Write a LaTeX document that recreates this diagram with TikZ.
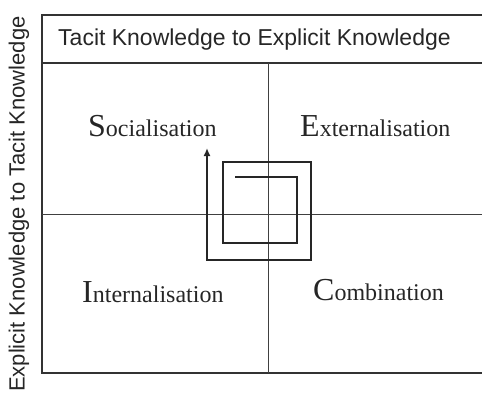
\documentclass[tikz,border=0pt]{standalone}
\usepackage{fontspec}
\setmainfont{Liberation Serif}
\newfontfamily\axisfont{Liberation Sans}
\usetikzlibrary{arrows.meta}
\begin{document}
\begin{tikzpicture}[x=1pt,y=-1pt,
frame/.style={draw=black!80,line width=1.3pt},
divider/.style={draw=black!75,line width=0.8pt},
spiral/.style={draw=black!85,line width=2pt,line join=miter},
quad/.style={anchor=base west,inner sep=0pt,font=\fontsize{24}{26}\selectfont,text=black!85},
axis/.style={inner sep=0pt,font=\axisfont\fontsize{23}{26}\selectfont,text=black!85}]
\useasboundingbox (0,0) rectangle (482,402);

% outer frame and header
\draw[frame] (482,15) -- (42,15) -- (42,373) -- (482,373);
\draw[frame] (42,63) -- (482,63);
\draw[divider] (268,63) -- (268,373);
\draw[divider] (42,214) -- (482,214);

\node[axis,anchor=west] (tacit) at (58,40) {Tacit Knowledge to Explicit Knowledge};
\node[axis,anchor=west,rotate=90] (explicit) at (19,392) {\fontsize{22}{26}\selectfont Explicit Knowledge to Tacit Knowledge};

% quadrants
\node[quad] (soc) at (88,136) {{\fontsize{32}{32}\selectfont S}ocialisation};
\node[quad] (ext) at (300,136) {{\fontsize{32}{32}\selectfont E}xternalisation};
\node[quad] (int) at (82,302) {{\fontsize{32}{32}\selectfont I}nternalisation};
\node[quad] (com) at (313,300) {{\fontsize{32}{32}\selectfont C}ombination};

% spiral
\draw[spiral,-{Latex[length=8pt,width=7pt]}] (235,177) -- (297,177) -- (297,243) -- (223,243)
  -- (223,162) -- (311,162) -- (311,260) -- (207,260) -- (207,148);

\end{tikzpicture}
\end{document}
